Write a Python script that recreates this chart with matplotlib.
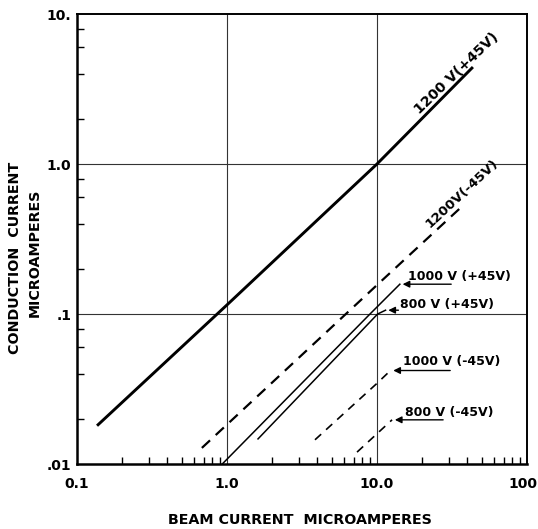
import numpy as np
import matplotlib
matplotlib.use('Agg')
import matplotlib.pyplot as plt
import matplotlib.transforms as mtransforms
from matplotlib.ticker import FixedLocator, NullFormatter

# Beam current (x) vs conduction current (y), microamperes
x_1200p = [0.136, 1.0, 10.0, 43.6]
y_1200p = [0.018, 0.115, 1.0, 4.43]
x_1200n = [0.68, 10.0, 36.0]
y_1200n = [0.0128, 0.156, 0.51]
x_1000p = [0.93, 8.98, 14.2]
y_1000p = [0.01, 0.1, 0.158]
x_800p = [1.61, 10.1, 11.4]
y_800p = [0.0147, 0.1, 0.106]
x_1000n = [3.86, 10.0, 12.3]
y_1000n = [0.0145, 0.0345, 0.042]
x_800n = [7.36, 12.6]
y_800n = [0.012, 0.0197]

xticks = [0.1, 1.0, 10.0, 100]
xtick_labels = ['0.1', '1.0', '10.0', '100']
yticks = [0.01, 0.1, 1.0, 10]
ytick_labels = ['.01', '.1', '1.0', '10.']

plt.rcParams['font.family'] = ['DejaVu Sans']

fig = plt.figure(figsize=(5.38, 5.29), dpi=100)
ax = fig.add_axes([77 / 538, 65 / 529, 450 / 538, 450 / 529])
ax.set_xscale('log')
ax.set_yscale('log')
ax.set_xlim(0.1, 100)
ax.set_ylim(0.01, 10)

ax.plot(x_1200p, y_1200p, color='black', lw=2.1, solid_capstyle='butt')
ax.plot(x_1200n, y_1200n, color='black', lw=1.6, dashes=(5, 3.5))
ax.plot(x_1000p, y_1000p, color='black', lw=1.1)
ax.plot(x_800p, y_800p, color='black', lw=1.1)
ax.plot(x_1000n, y_1000n, color='black', lw=1.2, dashes=(5, 4))
ax.plot(x_800n, y_800n, color='black', lw=1.2, dashes=(5, 4))

# gridlines at decades
for gx in [1.0, 10.0]:
    ax.axvline(gx, color='#333333', lw=0.8, zorder=0)
for gy in [0.1, 1.0]:
    ax.axhline(gy, color='#333333', lw=0.8, zorder=0)

# ticks
ax.xaxis.set_major_locator(FixedLocator(xticks))
ax.yaxis.set_major_locator(FixedLocator(yticks))
ax.set_xticklabels(xtick_labels, fontsize=10, fontweight='bold')
ax.set_yticklabels(ytick_labels, fontsize=10, fontweight='bold')
xminor = [m * 10.0 ** d for d in [-1, 0, 1] for m in range(2, 10)]
yminor = [m * 10.0 ** d for d in [-2, -1, 0] for m in [2, 4, 6, 8]]
ax.xaxis.set_minor_locator(FixedLocator(xminor))
ax.yaxis.set_minor_locator(FixedLocator(yminor))
ax.xaxis.set_minor_formatter(NullFormatter())
ax.yaxis.set_minor_formatter(NullFormatter())
ax.tick_params(which='major', length=0, pad=9)
ax.tick_params(axis='y', which='major', pad=4)
ax.tick_params(which='minor', direction='in', length=5, width=1.0)

# the last x label sits against the right edge, as in the original
last = ax.get_xticklabels()[-1]
last.set_ha('right')
last.set_transform(last.get_transform() +
                   mtransforms.ScaledTranslation(10 / 100, 0, fig.dpi_scale_trans))

for side in ['left', 'bottom']:
    ax.spines[side].set_linewidth(1.8)
for side in ['top', 'right']:
    ax.spines[side].set_linewidth(1.4)

# labels
fig.text(300 / 538, 9 / 529, 'BEAM CURRENT  MICROAMPERES',
         ha='center', va='center', fontsize=10.3, fontweight='bold')
fig.text(15 / 538, 1 - 258 / 529, 'CONDUCTION  CURRENT', rotation=90,
         ha='center', va='center', fontsize=10.3, fontweight='bold')
fig.text(35 / 538, 1 - 253 / 529, 'MICROAMPERES', rotation=90,
         ha='center', va='center', fontsize=10.3, fontweight='bold')

ax.annotate('1200 V(+45V)', xy=(36.6, 3.71), xytext=(-3.6, 3.6), textcoords='offset points',
            rotation=44, rotation_mode='anchor', ha='center', va='center',
            fontsize=10.2, fontweight='bold')
ax.annotate('1200V(-45V)', xy=(37, 0.64), xytext=(0, 0), textcoords='offset points',
            rotation=43, rotation_mode='anchor', ha='center', va='center',
            fontsize=9.6, fontweight='bold')

arrow = dict(arrowstyle='-|>', color='black', lw=1.0, mutation_scale=10)
# 1000 V (+45V)
ax.text(16.1, 0.178, '1000 V (+45V)', ha='left', va='center', fontsize=9, fontweight='bold')
ax.annotate('', xy=(x_1000p[-1], y_1000p[-1]), xytext=(32.6, y_1000p[-1]), arrowprops=arrow)
# 800 V (+45V)
ax.text(14.2, 0.116, '800 V (+45V)', ha='left', va='center', fontsize=9, fontweight='bold')
ax.annotate('', xy=(x_800p[-1], y_800p[-1]), xytext=(14.5, y_800p[-1]), arrowprops=arrow)
# 1000 V (-45V)
ax.text(14.9, 0.048, '1000 V (-45V)', ha='left', va='center', fontsize=9, fontweight='bold')
ax.annotate('', xy=(x_1000n[-1], y_1000n[-1]), xytext=(32.1, y_1000n[-1]), arrowprops=arrow)
# 800 V (-45V)
ax.text(15.4, 0.0222, '800 V (-45V)', ha='left', va='center', fontsize=9, fontweight='bold')
ax.annotate('', xy=(x_800n[-1], y_800n[-1]), xytext=(28.8, y_800n[-1]), arrowprops=arrow)

plt.savefig('out.png', dpi=100)
